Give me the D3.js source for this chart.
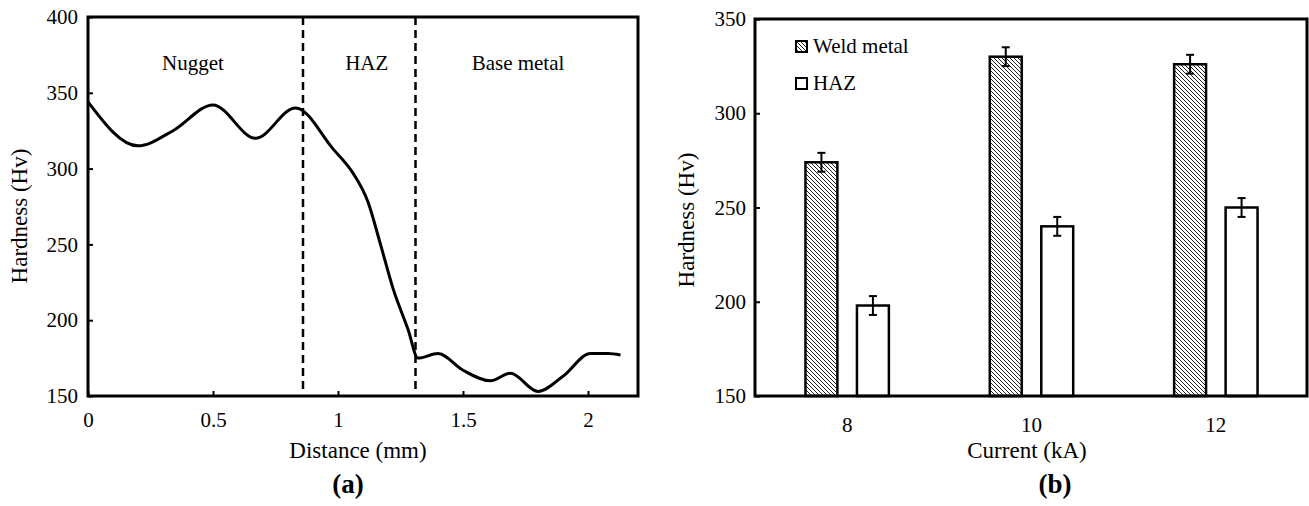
<!DOCTYPE html>
<html>
<head>
<meta charset="utf-8">
<script src="https://cdn.jsdelivr.net/npm/d3@7"></script>
<style>
body{margin:0;background:#fff;}
text{font-family:"Liberation Serif","Times New Roman",serif;fill:#000;}
</style>
</head>
<body>
<script>
// (a) hardness profile
var distance=[0,0.2,0.34,0.5,0.67,0.83,0.98,1.06,1.12,1.17,1.22,1.28,1.32,1.4,1.5,1.61,1.69,1.8,1.9,2.01,2.08,2.13];
var hardness=[344,315,325,342,320,340,313,297,278,250,221,194,175,178,167,160,165,153,163,178,178,177];
var zoneBounds=[0.86,1.31];
var zoneNames=["Nugget","HAZ","Base metal"];
var zonePos=[0.42,1.115,1.72];
var distTicks=[0,0.5,1,1.5,2];
var hvTicksA=[150,200,250,300,350,400];

// (b) bars
var currents=["8","10","12"];
var series=["Weld metal","HAZ"];
var weldHv=[274,330,326];
var hazHv=[198,240,250];
var weldErr=[5,5,5];
var hazErr=[5,5,5];
var hvTicksB=[150,200,250,300,350];

var w=1309,h=506;
var svg=d3.select("body").append("svg").attr("width",w).attr("height",h);

var defs=svg.append("defs");
defs.append("pattern").attr("id","hatch").attr("patternUnits","userSpaceOnUse")
	.attr("width",4).attr("height",4)
	.append("path").attr("d","M-1,-1L5,5M-1,3L1,5M3,-1L5,1")
	.attr("stroke","#222").attr("stroke-width",1);

//========== (a) ==========
var xA=d3.scaleLinear().domain([0,2.2]).range([88,638]);
var yA=d3.scaleLinear().domain([150,400]).range([396,17]);

var ga=svg.append("g");

var axA=ga.append("g").attr("transform","translate(0,396)")
	.call(d3.axisBottom(xA).tickValues(distTicks).tickSizeInner(-5).tickSizeOuter(0).tickPadding(16).tickFormat(function(d){return d;}));
var ayA=ga.append("g").attr("transform","translate(88,0)")
	.call(d3.axisLeft(yA).tickValues(hvTicksA).tickSizeInner(-5).tickSizeOuter(0).tickPadding(10));
[axA,ayA].forEach(function(a){
	a.select(".domain").remove();
	a.selectAll("line").attr("stroke","#000").attr("stroke-width",2);
	a.selectAll("text").style("font-size","21px").attr("fill","#000");
	a.attr("font-family",null);
});

// zone boundaries
ga.selectAll("line.zone").data(zoneBounds).enter().append("line")
	.attr("class","zone")
	.attr("x1",function(d){return xA(d);}).attr("x2",function(d){return xA(d);})
	.attr("y1",yA(400)).attr("y2",yA(153))
	.attr("stroke","#000").attr("stroke-width",2.5).attr("stroke-dasharray","8,5");

ga.selectAll("text.zone").data(zoneNames).enter().append("text")
	.attr("class","zone")
	.attr("x",function(d,i){return xA(zonePos[i]);})
	.attr("y",yA(365))
	.attr("text-anchor","middle").style("font-size","21px")
	.text(function(d){return d;});

var line=d3.line()
	.x(function(d,i){return xA(distance[i]);})
	.y(function(d){return yA(d);})
	.curve(d3.curveMonotoneX);
ga.append("path").datum(hardness).attr("d",line)
	.attr("fill","none").attr("stroke","#000").attr("stroke-width",3).attr("stroke-linejoin","round");

ga.append("rect").attr("x",88).attr("y",17).attr("width",638-88).attr("height",396-17)
	.attr("fill","none").attr("stroke","#000").attr("stroke-width",3);

ga.append("text").attr("x",358).attr("y",458).attr("text-anchor","middle")
	.style("font-size","23px").text("Distance (mm)");
ga.append("text").attr("transform","translate(27,216) rotate(-90)").attr("text-anchor","middle")
	.style("font-size","23px").text("Hardness (Hv)");
ga.append("text").attr("x",348).attr("y",493).attr("text-anchor","middle")
	.style("font-size","27px").style("font-weight","bold").text("(a)");

//========== (b) ==========
var xB=d3.scaleBand().domain(currents).range([755,1308]);
var xS=d3.scaleBand().domain(series).range([0,xB.bandwidth()]).paddingInner(0.38).paddingOuter(0.98);
var yB=d3.scaleLinear().domain([150,350]).range([396,19]);

var gb=svg.append("g");

var axB=gb.append("g").attr("transform","translate(0,396)")
	.call(d3.axisBottom(xB).tickSize(0).tickPadding(21));
var ayB=gb.append("g").attr("transform","translate(755,0)")
	.call(d3.axisLeft(yB).tickValues(hvTicksB).tickSizeInner(-5).tickSizeOuter(0).tickPadding(9));
[axB,ayB].forEach(function(a){
	a.select(".domain").remove();
	a.selectAll("line").attr("stroke","#000").attr("stroke-width",2);
	a.selectAll("text").style("font-size","21px").attr("fill","#000");
	a.attr("font-family",null);
});

var rows=currents.map(function(c,i){
	return [
		{c:c,s:series[0],v:weldHv[i],e:weldErr[i]},
		{c:c,s:series[1],v:hazHv[i],e:hazErr[i]}
	];
});
var bars=[].concat.apply([],rows);

gb.selectAll("rect.bar").data(bars).enter().append("rect")
	.attr("class","bar")
	.attr("x",function(d){return xB(d.c)+xS(d.s);})
	.attr("y",function(d){return yB(d.v);})
	.attr("width",xS.bandwidth())
	.attr("height",function(d){return yB(150)-yB(d.v);})
	.attr("fill",function(d){return d.s==series[0]?"url(#hatch)":"#fff";})
	.attr("stroke","#000").attr("stroke-width",2.5);

// error bars
var eb=gb.selectAll("g.err").data(bars).enter().append("g").attr("class","err")
	.attr("transform",function(d){return "translate("+(xB(d.c)+xS(d.s)+xS.bandwidth()/2)+",0)";});
eb.append("line").attr("x1",0).attr("x2",0)
	.attr("y1",function(d){return yB(d.v+d.e);}).attr("y2",function(d){return yB(d.v-d.e);});
eb.append("line").attr("x1",-4).attr("x2",4)
	.attr("y1",function(d){return yB(d.v+d.e);}).attr("y2",function(d){return yB(d.v+d.e);});
eb.append("line").attr("x1",-4).attr("x2",4)
	.attr("y1",function(d){return yB(d.v-d.e);}).attr("y2",function(d){return yB(d.v-d.e);});
eb.selectAll("line").attr("stroke","#000").attr("stroke-width",2);

gb.append("rect").attr("x",755).attr("y",19).attr("width",1307-755).attr("height",396-19)
	.attr("fill","none").attr("stroke","#000").attr("stroke-width",3);

// legend
var lg=gb.selectAll("g.leg").data(series).enter().append("g").attr("class","leg")
	.attr("transform",function(d,i){return "translate(796,"+(41+i*37)+")";});
lg.append("rect").attr("width",11).attr("height",11)
	.attr("fill",function(d,i){return i==0?"url(#hatch)":"#fff";})
	.attr("stroke","#000").attr("stroke-width",2);
lg.append("text").attr("x",17).attr("y",12).style("font-size","21px").text(function(d){return d;});

gb.append("text").attr("x",1027).attr("y",458).attr("text-anchor","middle")
	.style("font-size","23px").text("Current (kA)");
gb.append("text").attr("transform","translate(694,220) rotate(-90)").attr("text-anchor","middle")
	.style("font-size","23px").text("Hardness (Hv)");
gb.append("text").attr("x",1055).attr("y",493).attr("text-anchor","middle")
	.style("font-size","27px").style("font-weight","bold").text("(b)");
</script>
</body>
</html>
